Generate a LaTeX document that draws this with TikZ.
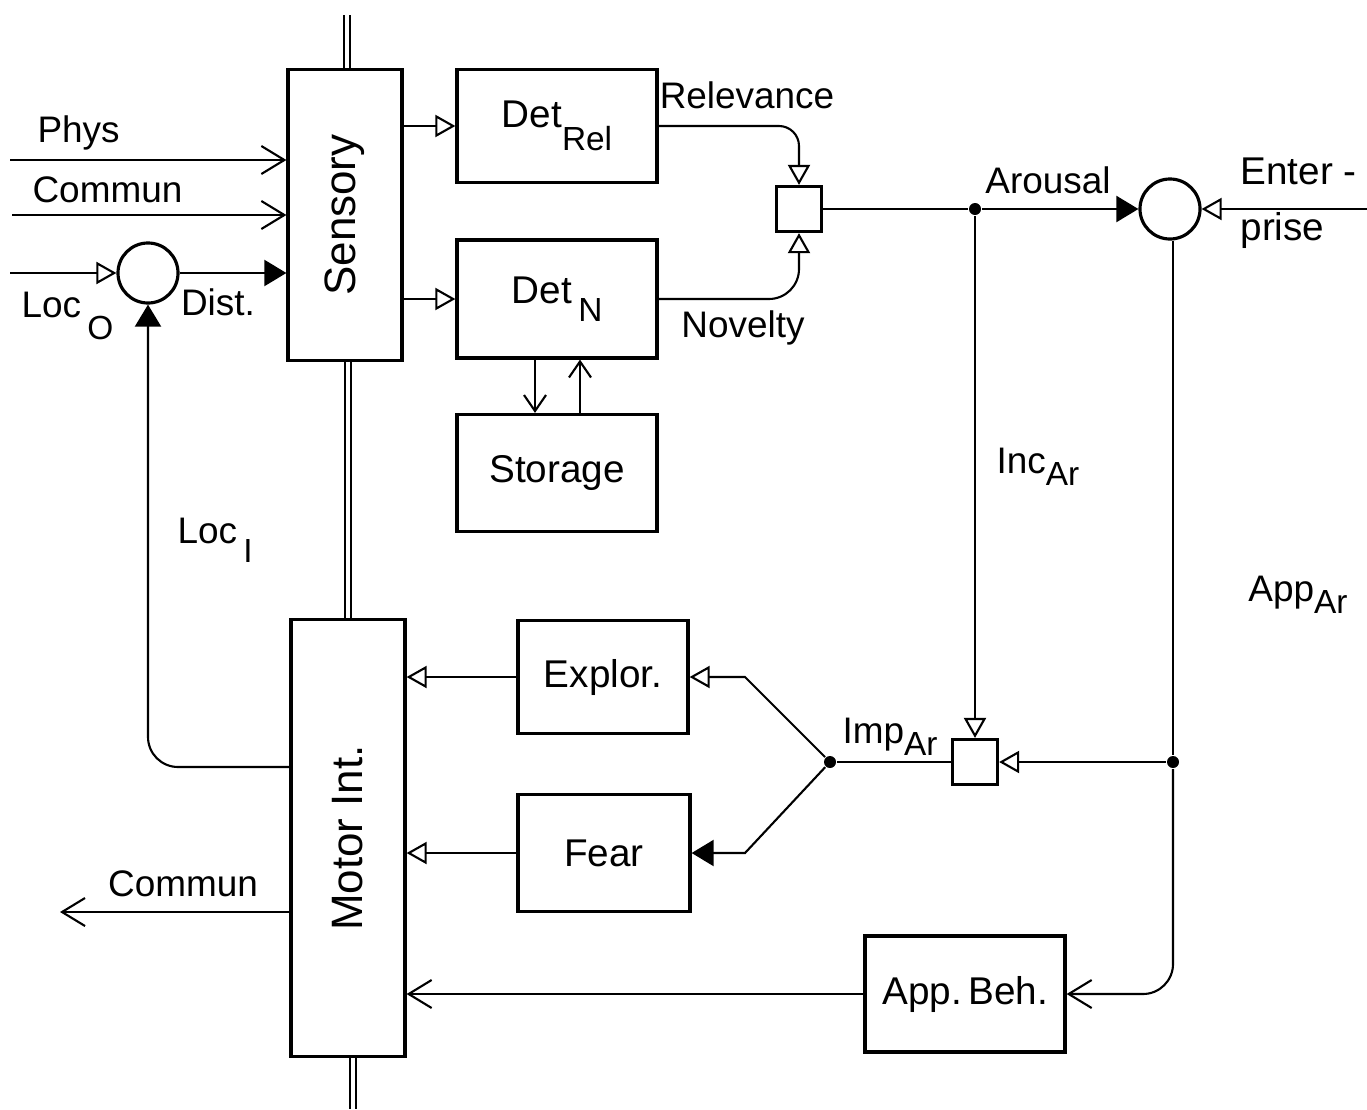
\documentclass[tikz,border=0pt]{standalone}
\usepackage{fontspec}
\setmainfont{Liberation Sans}
\usetikzlibrary{arrows.meta,positioning,calc}
\newcommand{\lsub}[2][0.8ex]{\raisebox{-#1}{\fontsize{9.5}{10}\selectfont#2}}

\begin{document}
\begin{tikzpicture}[
			x=0.01cm, y=-0.01cm,
			line width=0.6pt,
			opentip/.style={-{Triangle[open,length=2mm,width=2.2mm]}},
			filltip/.style={-{Triangle[length=2.2mm,width=2.6mm]}},
			barb/.style={-{Straight Barb[length=2.3mm,width=2.8mm]}},
			smallbarb/.style={-{Straight Barb[length=1.6mm,width=2.2mm]}},
			block/.style={
				draw,
				line width=0.9pt,
				minimum width=2cm,
				minimum height=1.15cm,
				font=\fontsize{11}{13}\selectfont
			},
			tall/.style={
				draw,
				line width=0.9pt,
				minimum width=1.14cm,
				font=\fontsize{12.5}{14}\selectfont
			},
			junction/.style={draw, line width=0.9pt, minimum size=0.45cm, inner sep=0pt},
			summer/.style={draw, circle, line width=0.9pt, minimum size=0.6cm, inner sep=0pt},
			lbl/.style={font=\fontsize{10.5}{12}\selectfont, inner sep=1pt},
			bus/.style={double, double distance=0.4mm, line width=0.5pt},
			dot/.style={circle, fill, inner sep=0pt, minimum size=1.2mm}
			]
			\useasboundingbox (0,0) rectangle (1367,1109);
			
			\node[tall,minimum height=2.9cm] (sensory) at (345,215) {\rotatebox{90}{Sensory}};
			\node[tall,minimum height=4.37cm] (motor) at (348,838) {\rotatebox{90}{Motor Int.}};
			
			\node[block,minimum height=1.13cm] (detrel) at (557,126) {Det\lsub[1.1ex]{Rel}};
			\node[block,minimum height=1.18cm] (detn) at (557,299) {Det\,\lsub[0.9ex]{N}};
			\node[block,minimum height=1.17cm] (storage) at (557,473) {Storage};
			
			\node[block,minimum width=1.7cm,minimum height=1.13cm] (explor) at (603,677) {Explor.};
			\node[block,minimum width=1.72cm,minimum height=1.17cm] (fear) at (604,853) {Fear};
			\node[block,minimum height=1.16cm] (appbeh) at (965,994) {App.\,Beh.};
			
			\node[junction] (junc) at (799,209) {};
			\node[junction] (junc2) at (975,762) {};
			\node[summer] (arsum) at (1170,209) {};
			\node[summer] (locsum) at (148,273) {};
			
			\node[dot] (arsplit) at (975,209) {};
			\node[dot] (apsplit) at (1173,762) {};
			\node[dot] (impsplit) at (830,762) {};
			
			\coordinate (physin) at (10,160);
			\coordinate (commin) at (12,215);
			\coordinate (locin) at (10,273);
			\coordinate (enterin) at (1367,209);
			\coordinate (commout) at (60,912);
			\coordinate (bustop) at (347,15);
			\coordinate (busbot) at (353,1109);
			
			% bus
			\draw[bus] (bustop) -- (bustop |- sensory.north);
			\draw[bus] ($(sensory.south)+(3,0)$) -- ($(sensory.south |- motor.north)+(3,0)$);
			\draw[bus] (busbot |- motor.south) -- (busbot);
			
			% inputs
			\draw[barb] (physin) -- (physin -| sensory.west);
			\draw[barb] (commin) -- (commin -| sensory.west);
			\draw[opentip] (locin) -- (locsum.west);
			\draw[filltip] (locsum.east) -- (locsum.east -| sensory.west);
			
			\draw[opentip] (sensory.east |- detrel.west) -- (detrel.west);
			\draw[opentip] (sensory.east |- detn.west) -- (detn.west);
			\draw[smallbarb] ($(detn.south)+(-22,0)$) -- ($(storage.north)+(-22,0)$);
			\draw[smallbarb] ($(storage.north)+(23,0)$) -- ($(detn.south)+(23,0)$);
			
			\draw[opentip,rounded corners=0.2cm] (detrel.east) -| (junc.north);
			\draw[opentip,rounded corners=0.3cm] (detn.east) -| (junc.south);
			
			\draw (junc.east) -- (arsplit);
			\draw[filltip] (arsplit) -- (arsum.west);
			\draw[opentip] (enterin) -- (arsum.east);
			
			\draw[opentip] (arsplit) -- (junc2.north);
			\draw (arsum.south -| apsplit) -- (apsplit);
			\draw[opentip] (apsplit) -- (junc2.east);
			\draw[barb,rounded corners=0.3cm] (apsplit) |- (appbeh.east);
			\draw (junc2.west) -- (impsplit);
			
			\draw[opentip] (impsplit) -- ++(-85,-85) -- (explor.east);
			\draw[filltip] (impsplit) -- ++(-85,91) -- (fear.east);
			
			\draw[opentip] (explor.west) -- (explor.west -| motor.east);
			\draw[opentip] (fear.west) -- (fear.west -| motor.east);
			\draw[barb] (appbeh.west) -- (appbeh.west -| motor.east);
			
			\draw[barb] (commout -| motor.west) -- (commout);
			\draw[filltip,rounded corners=0.3cm] ($(motor.west)+(0,-71)$) -| (locsum.south);
			
			% labels
			\node[lbl,anchor=west] (physlbl) at (33,133) {Phys};
			\node[lbl,anchor=west] (comminlbl) at (28,190) {Commun};
			\node[lbl,anchor=base west] (loclbl) at (17,317) {Loc\,\lsub[6.5pt]{O}};
			\node[lbl] (distlbl) at (218,302) {Dist.};
			\node[lbl,anchor=base west] (locilbl) at (173,543) {Loc\,\lsub[5.5pt]{I}};
			\node[lbl] (rellbl) at (747,95) {Relevance};
			\node[lbl] (novlbl) at (743,328) {Novelty};
			\node[lbl] (arlbl) at (1048,180) {Arousal};
			\node[lbl,anchor=west,align=left,font=\fontsize{11}{16}\selectfont] (entlbl) at (1236,203) {Enter -\\prise};
			\node[lbl] (inclbl) at (1038,467) {Inc\lsub[0.6ex]{Ar}};
			\node[lbl] (applbl) at (1298,595) {App\lsub[0.6ex]{Ar}};
			\node[lbl] (implbl) at (890,737) {Imp\lsub[0.6ex]{Ar}};
			\node[lbl] (commoutlbl) at (183,884) {Commun};
			
		\end{tikzpicture}
\end{document}
